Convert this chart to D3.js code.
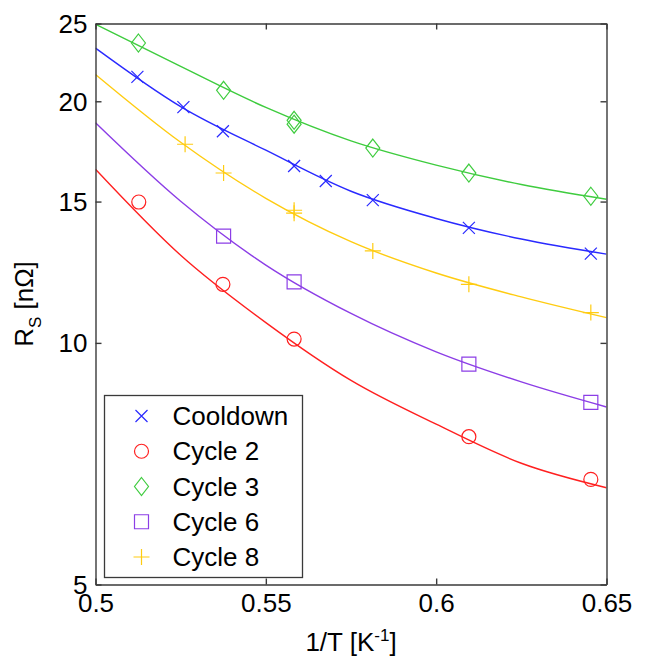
<!DOCTYPE html>
<html>
<head>
<meta charset="utf-8">
<script src="https://cdn.jsdelivr.net/npm/d3@7"></script>
<style>
  body { margin: 0; background: #fff; }
  svg { font-family: "Liberation Sans", Arial, sans-serif; }
</style>
</head>
<body>
<div id="chart"></div>
<script>
// Axis ticks
const xTicks = [0.5, 0.55, 0.6, 0.65];
const yTicks = [5, 10, 15, 20, 25];

// Measured points (1/T, Rs)
const cooldownX = [0.5123, 0.5258, 0.5374, 0.5583, 0.5676, 0.5814, 0.6096, 0.6454];
const cooldownY = [21.45, 19.67, 18.35, 16.61, 15.91, 15.06, 13.91, 12.92];
const cycle2X = [0.5127, 0.5374, 0.5583, 0.6096, 0.6454];
const cycle2Y = [14.98, 11.83, 10.11, 7.64, 6.76];
const cycle3X = [0.5126, 0.5376, 0.5583, 0.5583, 0.5814, 0.6096, 0.6454];
const cycle3Y = [23.64, 20.64, 18.94, 18.73, 17.49, 16.28, 15.23];
const cycle6X = [0.5376, 0.5583, 0.6096, 0.6454];
const cycle6Y = [13.58, 11.91, 9.41, 8.43];
const cycle8X = [0.5263, 0.5376, 0.5583, 0.5583, 0.5814, 0.6096, 0.6454];
const cycle8Y = [17.68, 16.28, 14.63, 14.51, 13.02, 11.83, 10.91];

// Fit curves
const fitX = [0.5, 0.525, 0.55, 0.575, 0.6, 0.625, 0.65];
const fitCooldown = [23.3, 19.7, 17.38, 15.45, 14.29, 13.47, 12.9];
const fitCycle2 = [16.46, 12.86, 10.6, 8.98, 7.92, 7.08, 6.6];
const fitCycle3 = [24.95, 22.1, 19.65, 17.85, 16.65, 15.75, 15.1];
const fitCycle6 = [18.8, 15.01, 12.5, 10.88, 9.745, 8.94, 8.32];
const fitCycle8 = [21.6, 17.78, 15.14, 13.37, 12.22, 11.41, 10.75];

const series = [
  { name: "Cooldown", color: "#2a2aff", shape: "x", xs: cooldownX, ys: cooldownY, fit: fitCooldown },
  { name: "Cycle 2", color: "#ff2020", shape: "o", xs: cycle2X, ys: cycle2Y, fit: fitCycle2 },
  { name: "Cycle 3", color: "#3fcc3f", shape: "d", xs: cycle3X, ys: cycle3Y, fit: fitCycle3 },
  { name: "Cycle 6", color: "#8c3ee6", shape: "s", xs: cycle6X, ys: cycle6Y, fit: fitCycle6 },
  { name: "Cycle 8", color: "#ffcc11", shape: "+", xs: cycle8X, ys: cycle8Y, fit: fitCycle8 }
];

const W = 646, H = 658;
const margin = { top: 23.5, right: 39.5, bottom: 73.5, left: 95.5 };
const width = W - margin.left - margin.right;
const height = H - margin.top - margin.bottom;

const svg = d3.select("#chart").append("svg")
  .attr("width", W)
  .attr("height", H);

const g = svg.append("g")
  .attr("transform", `translate(${margin.left},${margin.top})`);

const x = d3.scaleLinear().domain([0.5, 0.65]).range([0, width]);
const y = d3.scaleLog().domain([5, 25]).range([height, 0]);

// marker path around (0,0)
function marker(shape) {
  switch (shape) {
    case "x": return "M-6,-6L6,6M-6,6L6,-6";
    case "o": return "M7,0A7,7 0 1,1 -7,0A7,7 0 1,1 7,0Z";
    case "d": return "M0,-9L7,0L0,9L-7,0Z";
    case "s": return "M-7,-7H7V7H-7Z";
    case "+": return "M-8,0H8M0,-8V8";
  }
}

// clip for curves
svg.append("clipPath").attr("id", "clip")
  .append("rect").attr("width", width).attr("height", height);

const line = d3.line()
  .x((d, i) => x(fitX[i]))
  .y(d => y(d))
  .curve(d3.curveMonotoneX);

series.forEach(s => {
  g.append("path")
    .attr("clip-path", "url(#clip)")
    .attr("d", line(s.fit))
    .attr("fill", "none")
    .attr("stroke", s.color)
    .attr("stroke-width", 1.4);

  g.selectAll(null)
    .data(s.xs.map((v, i) => [v, s.ys[i]]))
    .enter()
    .append("path")
    .attr("transform", d => `translate(${x(d[0])},${y(d[1])})`)
    .attr("d", marker(s.shape))
    .attr("fill", "none")
    .attr("stroke", s.color)
    .attr("stroke-width", 1.2);
});

// Axes box with inward ticks
const axisColor = "#3a3a3a";
const fontSize = 26;

const xAxis = g.append("g")
  .attr("transform", `translate(0,${height})`)
  .call(d3.axisBottom(x).tickValues(xTicks).tickSizeInner(-6).tickSizeOuter(0)
    .tickFormat(d3.format("")));
const xTop = g.append("g")
  .call(d3.axisTop(x).tickValues(xTicks).tickSizeInner(-6).tickSizeOuter(0).tickFormat(""));
const yAxis = g.append("g")
  .call(d3.axisLeft(y).tickValues(yTicks).tickSizeInner(-6).tickSizeOuter(0)
    .tickFormat(d3.format("d")));
const yRight = g.append("g")
  .attr("transform", `translate(${width},0)`)
  .call(d3.axisRight(y).tickValues(yTicks).tickSizeInner(-6).tickSizeOuter(0).tickFormat(""));

[xAxis, xTop, yAxis, yRight].forEach(a => {
  a.select(".domain").attr("stroke", axisColor).attr("stroke-width", 1.4);
  a.selectAll(".tick line").attr("stroke", axisColor).attr("stroke-width", 1.4);
  a.selectAll(".tick text")
    .attr("fill", "#000")
    .style("font-size", fontSize + "px")
    .style("font-family", "'Liberation Sans', Arial, sans-serif");
});

xAxis.selectAll(".tick text").attr("y", 9).attr("dy", "0.71em");
yAxis.selectAll(".tick text").attr("x", -8).attr("dy", "0.35em");

// Axis labels
const xLabel = svg.append("text")
  .attr("x", margin.left + width / 2)
  .attr("y", 651)
  .attr("text-anchor", "middle")
  .style("font-size", fontSize + "px");
xLabel.append("tspan").text("1/T [K");
xLabel.append("tspan").attr("dy", -10).style("font-size", "17px").text("-1");
xLabel.append("tspan").attr("dy", 10).text("]");

const yLabel = svg.append("text")
  .attr("transform", `translate(33,${margin.top + height / 2}) rotate(-90)`)
  .attr("text-anchor", "middle")
  .style("font-size", fontSize + "px");
yLabel.append("tspan").text("R");
yLabel.append("tspan").attr("dy", 8).style("font-size", "17px").text("S");
yLabel.append("tspan").attr("dy", -8).text(" [nΩ]");

// Legend
const legend = svg.append("g").attr("transform", "translate(104.5,395.5)");
legend.append("rect")
  .attr("width", 198)
  .attr("height", 182)
  .attr("fill", "#fff")
  .attr("stroke", axisColor)
  .attr("stroke-width", 1.3);

series.forEach((s, i) => {
  const row = legend.append("g").attr("transform", `translate(0,${20.5 + i * 35.25})`);
  row.append("path")
    .attr("transform", "translate(37,0)")
    .attr("d", marker(s.shape))
    .attr("fill", "none")
    .attr("stroke", s.color)
    .attr("stroke-width", 1.2);
  row.append("text")
    .attr("x", 68)
    .attr("dy", "0.35em")
    .style("font-size", fontSize + "px")
    .text(s.name);
});
</script>
</body>
</html>
